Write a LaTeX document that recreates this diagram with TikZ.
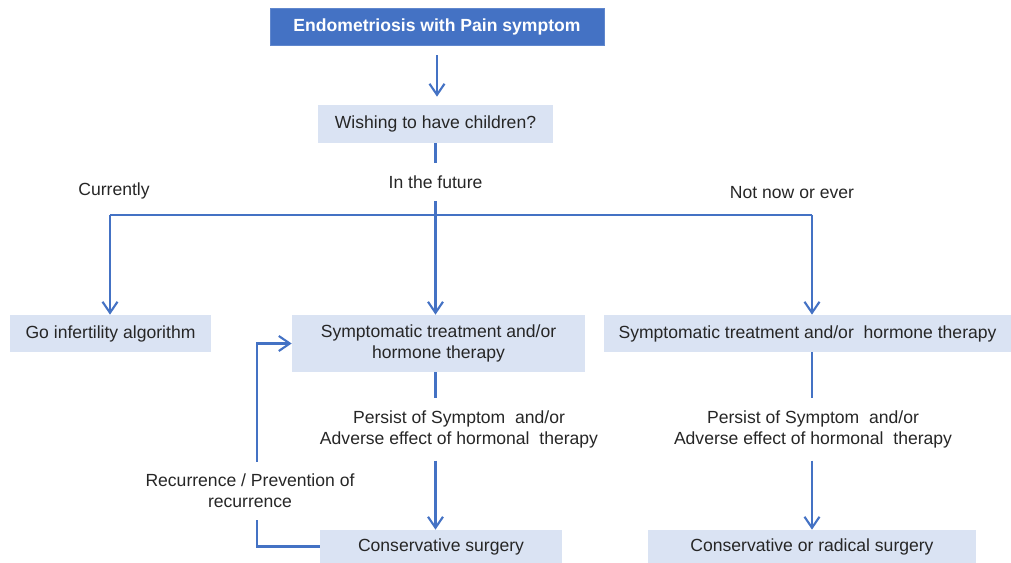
\documentclass[tikz,border=0pt]{standalone}
\usepackage{fontspec}
\setmainfont{Liberation Sans}
\usepackage{tikz}
\usetikzlibrary{arrows.meta, positioning}
\definecolor{flowblue}{HTML}{4472C4}
\definecolor{boxfill}{HTML}{DAE3F3}
\definecolor{txtgray}{HTML}{262626}
\tikzstyle{topbox} = [rectangle, fill=flowblue, draw=flowblue!85!white, text=white, font=\bfseries\fontsize{10}{12}\selectfont, minimum height=0.74cm]
\tikzstyle{box} = [rectangle, fill=boxfill, text=txtgray, align=center, font=\fontsize{10}{12}\selectfont]
\tikzstyle{lbl} = [text=txtgray, align=center, font=\fontsize{10}{12}\selectfont, inner sep=0.24cm]
\tikzstyle{line} = [draw, flowblue, line width=1.2pt]
\tikzstyle{arrow} = [line, -{Straight Barb[length=0.22cm, width=0.3cm]}]

\begin{document}
\begin{tikzpicture}[x=0.02cm, y=-0.02cm]
				\useasboundingbox (0,0) rectangle (1011,563);
				\node [topbox, minimum width=6.68cm] (endo) at (437,26.5) {Endometriosis with Pain symptom};
				\node [box, minimum width=4.7cm, minimum height=0.76cm] (wish) at (435.5,124) {Wishing to have children?};
				\node [lbl] (future) at (435.5,182) {In the future};
				\node [lbl] (now) at (114,191) {Currently};
				\node [lbl] (never) at (792,193) {Not now or ever};
				\node [box, minimum width=4.02cm, minimum height=0.74cm] (goinf) at (110.5,333.5) {Go infertility algorithm};
				\node [box, minimum width=5.86cm, minimum height=1.14cm] (midtreat) at (438.5,343.5) {Symptomatic treatment and/or\\hormone therapy};
				\node [box, minimum width=8.14cm, minimum height=0.74cm] (righttreat) at (807.5,333.5) {Symptomatic treatment and/or~ hormone therapy};
				\node [lbl] (midpersist) at (459,429.5) {Persist of Symptom~ and/or\\Adverse effect of hormonal~ therapy};
				\node [lbl] (rightpersist) at (813,429.5) {Persist of Symptom~ and/or\\Adverse effect of hormonal~ therapy};
				\node [lbl] (recur) at (250,491) {Recurrence / Prevention of\\recurrence};
				\node [box, minimum width=4.84cm, minimum height=0.66cm] (cons) at (441,546.5) {Conservative surgery};
				\node [box, minimum width=6.56cm, minimum height=0.66cm] (radical) at (812,546.5) {Conservative or radical surgery};

				\coordinate (splitL) at (110,215);
				\coordinate (splitR) at (812,215);
				\coordinate (loopB) at (257,546.5);
				\coordinate (loopT) at (257,343.5);

				\path [arrow, shorten <=0.2cm, shorten >=0.16cm] (endo) -- (endo |- wish.north);
				\path [line] (wish) -- (future);
				\path [arrow] (future) -- (future |- midtreat.north);
				\path [line] (splitL) -- (splitR);
				\path [arrow] (splitL) -- (splitL |- goinf.north);
				\path [arrow] (splitR) -- (splitR |- righttreat.north);
				\path [line] (future |- midtreat.south) -- (future |- midpersist.north);
				\path [arrow] (future |- midpersist.south) -- (future |- cons.north);
				\path [line] (radical.north |- righttreat.south) -- (radical.north |- rightpersist.north);
				\path [arrow] (radical.north |- rightpersist.south) -- (radical.north);
				\path [line] (cons.west) -- (loopB) -- (loopB |- recur.south);
				\path [arrow] (loopT |- recur.north) -- (loopT) -- (midtreat.west);
			\end{tikzpicture}
\end{document}
